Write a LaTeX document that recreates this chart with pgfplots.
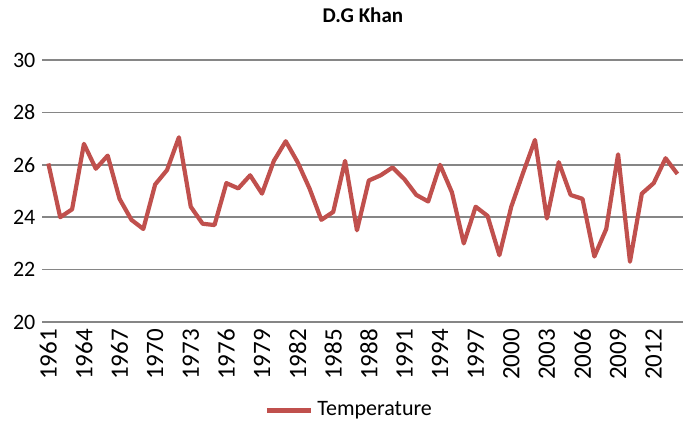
\documentclass[border=0pt]{standalone}
\usepackage{pgfplots}
\pgfplotsset{compat=1.18}
\usepackage{fontspec}
\setmainfont{Carlito}
\definecolor{exred}{RGB}{192,80,77}
\definecolor{gridgray}{RGB}{134,134,134}
\begin{document}
\begin{tikzpicture}
\begin{axis}[
    at={(0,0)}, anchor=south west,
    scale only axis,
    width=320.5pt, height=131pt,
    xmin=1960.5, xmax=2014.5,
    ymin=20, ymax=30,
    ytick={20,22,24,26,28,30},
    xtick={1961,1964,...,2012},
    xticklabel style={rotate=90, anchor=east, /pgf/number format/1000 sep={}},
    x tick label style={font=\fontsize{12.5}{14}\selectfont},
    y tick label style={font=\fontsize{11}{13}\selectfont},
    /pgf/number format/assume math mode=true,
    major tick length=0pt,
    axis line style={draw=none},
    ymajorgrids,
    grid style={gridgray, line width=0.8pt},
    legend style={draw=none, at={(0.48,-0.336)}, anchor=center, font=\fontsize{11}{13}\selectfont},
    legend image code/.code={\draw[#1, line width=2.5pt] (0pt,0pt) -- (22pt,0pt);},
]
\addplot[exred, line width=2.1pt, line join=round] table {
year temp
1961 26.05
1962 24.00
1963 24.30
1964 26.80
1965 25.85
1966 26.35
1967 24.70
1968 23.90
1969 23.55
1970 25.25
1971 25.80
1972 27.05
1973 24.40
1974 23.75
1975 23.70
1976 25.30
1977 25.10
1978 25.60
1979 24.90
1980 26.15
1981 26.90
1982 26.10
1983 25.10
1984 23.90
1985 24.20
1986 26.15
1987 23.50
1988 25.40
1989 25.60
1990 25.90
1991 25.45
1992 24.85
1993 24.60
1994 26.00
1995 24.95
1996 23.00
1997 24.40
1998 24.05
1999 22.55
2000 24.40
2001 25.70
2002 26.95
2003 23.95
2004 26.10
2005 24.85
2006 24.70
2007 22.50
2008 23.55
2009 26.40
2010 22.30
2011 24.90
2012 25.30
2013 26.25
2014 25.65
};
\addlegendentry{Temperature}
\end{axis}
\node[font=\bfseries\fontsize{10.5}{12}\selectfont] at (160.25pt,153.5pt) {D.G Khan};
\pgfresetboundingbox
\path[use as bounding box] (-21.2pt,-53.5pt) rectangle (321.3pt,161pt);
\end{tikzpicture}
\end{document}
